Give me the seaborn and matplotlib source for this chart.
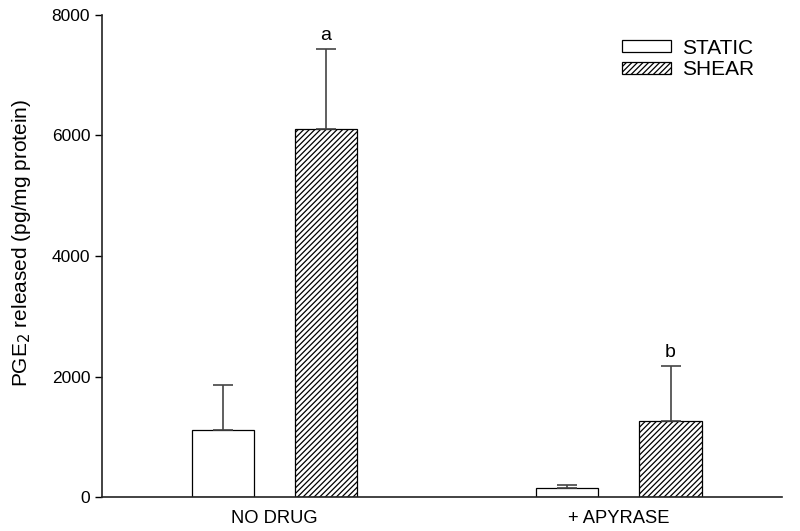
import matplotlib
matplotlib.use("Agg")
import matplotlib.pyplot as plt
import seaborn as sns
import pandas as pd
from matplotlib.patches import Patch

conditions = ["NO DRUG", "+ APYRASE"]
groups = ["STATIC", "SHEAR"]
static_vals = [1110, 155]
shear_vals = [6105, 1268]
static_err = [745, 40]
shear_err = [1330, 905]
letters_shear = ["a", "b"]

sns.set_style("ticks")
plt.rcParams['font.family'] = ['Liberation Sans', 'DejaVu Sans']
plt.rcParams['text.color'] = 'black'
plt.rcParams['axes.labelcolor'] = 'black'
plt.rcParams['xtick.color'] = 'black'
plt.rcParams['ytick.color'] = 'black'
plt.rcParams['hatch.linewidth'] = 0.9

df = pd.DataFrame({
    "condition": conditions * 2,
    "group": [groups[0]] * 2 + [groups[1]] * 2,
    "value": static_vals + shear_vals,
})

fig = plt.figure(figsize=(8, 5.31), dpi=100)
ax = fig.add_axes([0.1275, 0.064, 0.85, 0.9078])

sns.barplot(data=df, x="condition", y="value", hue="group", order=conditions,
            hue_order=groups, palette=["white", "white"], width=0.598, gap=0.398,
            edgecolor="black", linewidth=0.9, errorbar=None, legend=False, ax=ax)

bars = ax.patches
for i, p in enumerate(bars[:4]):
    hue_idx = i // 2
    cond_idx = i % 2
    if hue_idx == 1:
        p.set_hatch("//////")
    x = p.get_x() + p.get_width() / 2
    h = p.get_height()
    err = (static_err if hue_idx == 0 else shear_err)[cond_idx]
    ax.errorbar([x], [h], yerr=[[0], [err]], fmt="none", ecolor="#444444",
                elinewidth=1.2, capsize=7, capthick=1.2, zorder=1)
    if hue_idx == 1:
        ax.text(x, h + err + 90, letters_shear[cond_idx], ha="center", va="bottom",
                fontsize=14)

ax.set_ylim(0, 8000)
ax.set_xlim(-0.5, 1.473)
ax.set_yticks([0, 2000, 4000, 6000, 8000])
ax.tick_params(axis="y", labelsize=12.5, length=5, width=1)
ax.tick_params(axis="x", labelsize=13.2, length=0, pad=9)
ax.set_xlabel("")
ax.set_ylabel("PGE$_2$ released (pg/mg protein)", fontsize=15)
ax.yaxis.set_label_coords(-0.102, 0.527)
sns.despine(ax=ax)
for s in ["left", "bottom"]:
    ax.spines[s].set_linewidth(1.2)
    ax.spines[s].set_color("#222222")

handles = [Patch(facecolor="white", edgecolor="black", linewidth=0.9),
           Patch(facecolor="white", edgecolor="black", linewidth=0.9, hatch="//////")]
ax.legend(handles, groups, loc="upper left", bbox_to_anchor=(0.737, 0.99),
          frameon=False, fontsize=15, handlelength=2.35, handleheight=0.5,
          labelspacing=0.12, handletextpad=0.55)

fig.savefig("out.png", dpi=100)
